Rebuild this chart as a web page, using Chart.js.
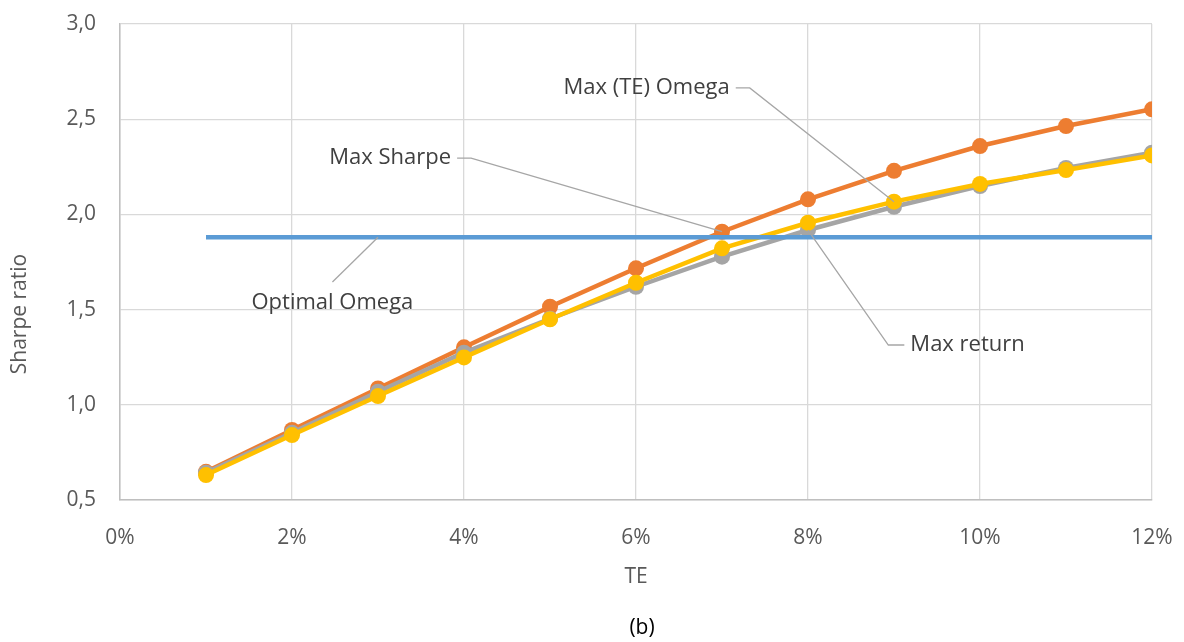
<!DOCTYPE html>
<html>
<head>
<meta charset="utf-8">
<script src="https://cdn.jsdelivr.net/npm/chart.js@4.4.1/dist/chart.umd.min.js"></script>
<style>
  html, body { margin: 0; padding: 0; background: #fff; }
  #wrap { width: 1184px; height: 642px; }
</style>
</head>
<body>
<div id="wrap"><canvas id="sharpeChart" width="1184" height="642"></canvas></div>
<script>
// tracking error levels
const te = [0.01, 0.02, 0.03, 0.04, 0.05, 0.06, 0.07, 0.08, 0.09, 0.10, 0.11, 0.12];
// sharpe ratios
const maxSharpe = [0.648, 0.868, 1.086, 1.302, 1.515, 1.717, 1.909, 2.079, 2.229, 2.359, 2.464, 2.552];
const maxReturn = [0.643, 0.853, 1.069, 1.274, 1.452, 1.620, 1.778, 1.918, 2.040, 2.149, 2.244, 2.324];
const maxTeOmega = [0.631, 0.841, 1.046, 1.249, 1.449, 1.641, 1.822, 1.956, 2.067, 2.160, 2.233, 2.310];
const optimalOmega = [1.88, 1.88, 1.88, 1.88, 1.88, 1.88, 1.88, 1.88, 1.88, 1.88, 1.88, 1.88];
const yTicks = [0.5, 1.0, 1.5, 2.0, 2.5, 3.0];
const xTicks = [0, 0.02, 0.04, 0.06, 0.08, 0.10, 0.12];

function pts(values) {
    return te.map((t, i) => ({ x: t, y: values[i] }));
}

const FONT = "'Open Sans', 'Liberation Sans', sans-serif";
const textColor = "#595959";

// callout labels: text anchor in data units, leader goes to a data point
const callouts = [
    { text: "Max (TE) Omega", x: 0.0709, y: 2.664, align: "right", target: () => ({ x: te[8], y: maxTeOmega[8] }) },
    { text: "Max Sharpe", x: 0.0385, y: 2.296, align: "right", target: () => ({ x: te[6], y: maxSharpe[6] }) },
    { text: "Optimal Omega", x: 0.0247, y: 1.535, align: "center", target: () => ({ x: te[2], y: optimalOmega[2] }) },
    { text: "Max return", x: 0.0919, y: 1.314, align: "left", target: () => ({ x: te[7], y: maxReturn[7] }) },
];

const calloutPlugin = {
    id: "callouts",
    afterDatasetsDraw(chart) {
        const c = chart.ctx;
        const xs = chart.scales.x, ys = chart.scales.y;
        c.save();
        c.font = "22px " + FONT;
        c.textBaseline = "middle";
        callouts.forEach(co => {
            const px = xs.getPixelForValue(co.x);
            const py = ys.getPixelForValue(co.y);
            const t = co.target();
            const tx = xs.getPixelForValue(t.x);
            const ty = ys.getPixelForValue(t.y);
            c.strokeStyle = "#a6a6a6";
            c.lineWidth = 1.3;
            c.beginPath();
            if (co.align === "right") {
                c.moveTo(px + 6, py);
                c.lineTo(px + 20, py);
            } else if (co.align === "left") {
                c.moveTo(px - 6, py);
                c.lineTo(px - 22, py);
            } else {
                c.moveTo(px, py - 21);
            }
            c.lineTo(tx, ty);
            c.stroke();
            c.fillStyle = "#404040";
            c.textAlign = co.align === "center" ? "center" : (co.align === "right" ? "right" : "left");
            c.fillText(co.text, px, py);
        });
        c.restore();

        // y axis title and the panel caption
        c.save();
        c.fillStyle = textColor;
        c.font = "21px " + FONT;
        c.textAlign = "center";
        c.textBaseline = "middle";
        c.translate(20, 314);
        c.rotate(-Math.PI / 2);
        c.fillText("Sharpe ratio", 0, 0);
        c.restore();

        c.save();
        c.fillStyle = "#000";
        c.font = "21px " + FONT;
        c.textAlign = "center";
        c.textBaseline = "middle";
        c.fillText("(b)", 642, 628);
        c.restore();
    }
};

const lineSet = (label, values, color, order, radius) => ({
    label: label,
    data: pts(values),
    borderColor: color,
    backgroundColor: color,
    borderWidth: 4.5,
    pointRadius: radius,
    pointHoverRadius: radius,
    pointBorderWidth: 0,
    tension: 0,
    order: order,
});

const ctx = document.getElementById("sharpeChart").getContext("2d");
const sharpeChart = new Chart(ctx, {
    type: "line",
    data: {
        datasets: [
            lineSet("Optimal Omega", optimalOmega, "#5b9bd5", 0, 0),
            lineSet("Max (TE) Omega", maxTeOmega, "#ffc000", 1, 8),
            lineSet("Max return", maxReturn, "#a5a5a5", 2, 8),
            lineSet("Max Sharpe", maxSharpe, "#ed7d31", 3, 8),
        ],
    },
    options: {
        responsive: false,
        animation: false,
        layout: { padding: { top: 24, right: 32, left: 0, bottom: 0 } },
        plugins: {
            legend: { display: false },
            tooltip: { enabled: false },
        },
        scales: {
            x: {
                type: "linear",
                min: 0,
                max: 0.12,
                afterBuildTicks: s => { s.ticks = xTicks.map(v => ({ value: v })); },
                afterFit: s => { s.height = 142; s.paddingLeft = 0; s.paddingRight = 0; },
                grid: { color: "#d9d9d9", lineWidth: 1.3, drawTicks: false },
                border: { color: "#bfbfbf", width: 1.5 },
                ticks: {
                    color: textColor,
                    padding: 25,
                    font: { family: FONT, size: 21 },
                    callback: v => Math.round(v * 100) + "%",
                },
                title: {
                    display: true,
                    text: "TE",
                    color: textColor,
                    font: { family: FONT, size: 21 },
                    padding: { top: 0, bottom: 52 },
                },
            },
            y: {
                min: 0.5,
                max: 3.0,
                afterBuildTicks: s => { s.ticks = yTicks.map(v => ({ value: v })); },
                afterFit: s => { s.width = 120; s.paddingTop = 0; s.paddingBottom = 0; },
                grid: { color: "#d9d9d9", lineWidth: 1.3, drawTicks: false },
                border: { color: "#bfbfbf", width: 1.5 },
                ticks: {
                    color: textColor,
                    padding: 24,
                    font: { family: FONT, size: 21 },
                    callback: v => v.toFixed(1).replace(".", ","),
                },
            },
        },
    },
    plugins: [calloutPlugin],
});
</script>
</body>
</html>
